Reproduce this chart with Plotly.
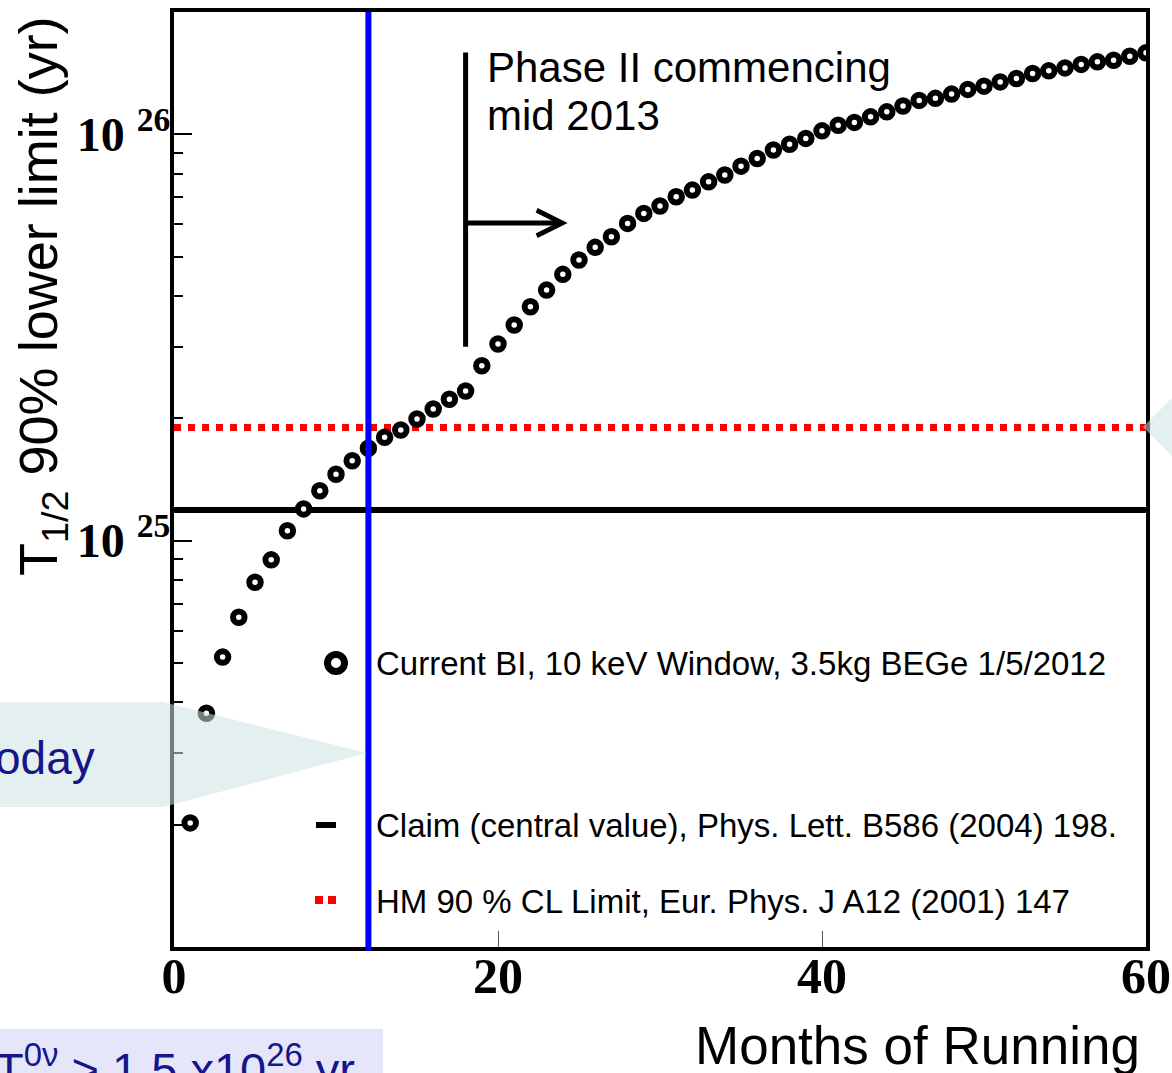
import math
import plotly.graph_objects as go

# Projected 90% CL lower limit on the half-life vs. months of running
months = list(range(1, 61))
t_half_limit = [
    2.02e24, 3.76e24, 5.17e24, 6.48e24, 7.90e24, 8.97e24, 1.058e25, 1.197e25,
    1.327e25, 1.457e25, 1.573e25, 1.688e25, 1.796e25, 1.872e25, 1.992e25, 2.109e25,
    2.228e25, 2.335e25, 2.695e25, 3.048e25, 3.394e25, 3.764e25, 4.137e25, 4.522e25,
    4.904e25, 5.270e25, 5.595e25, 6.037e25, 6.389e25, 6.66e25, 7.02e25, 7.29e25,
    7.64e25, 7.94e25, 8.35e25, 8.72e25, 9.15e25, 9.45e25, 9.77e25, 1.020e26,
    1.053e26, 1.070e26, 1.104e26, 1.136e26, 1.174e26, 1.212e26, 1.226e26, 1.256e26,
    1.290e26, 1.314e26, 1.346e26, 1.372e26, 1.412e26, 1.433e26, 1.457e26, 1.486e26,
    1.508e26, 1.522e26, 1.557e26, 1.587e26,
]

claim_value = 1.19e25        # Phys. Lett. B586 (2004) 198
hm_limit = 1.9e25            # Eur. Phys. J A12 (2001) 147
today_month = 12
phase2_month = 18
phase2_span = [3.0e25, 1.59e26]
phase2_arrow_end = 24.3
phase2_arrow_level = 6.05e25

x_range = [0, 60]
y_range = [1e24, 2e26]
x_ticks = [0, 20, 40, 60]
y_ticks = [1e25, 1e26]
y_ticktext = ["<b>10</b> <b><sup>25</sup></b>", "<b>10</b> <b><sup>26</sup></b>"]
y_minor = [m * 1e24 for m in range(2, 10)] + [m * 1e25 for m in range(2, 10)]

legend_labels = [
    "Current BI, 10 keV Window, 3.5kg BEGe 1/5/2012",
    "Claim (central value), Phys. Lett. B586 (2004) 198.",
    "HM 90 % CL Limit, Eur. Phys. J A12 (2001) 147",
]

W_PAGE, H_PAGE = 1172, 1073
L, R, T, B = 174, 1146, 12, 947


def px(x):
    return (x - L) / (R - L)


def py(y):
    return (B - y) / (B - T)


fig = go.Figure()

# reference lines
fig.add_trace(go.Scatter(
    x=x_range, y=[hm_limit, hm_limit], mode="lines",
    line=dict(color="#ff0000", width=7, dash="7px,7px"),
    showlegend=False, hoverinfo="skip"))
fig.add_trace(go.Scatter(
    x=x_range, y=[claim_value, claim_value], mode="lines",
    line=dict(color="black", width=6),
    showlegend=False, hoverinfo="skip"))

# Phase II marker line
fig.add_trace(go.Scatter(
    x=[phase2_month, phase2_month], y=phase2_span, mode="lines",
    line=dict(color="black", width=5),
    showlegend=False, hoverinfo="skip", cliponaxis=False))

# sensitivity points
fig.add_trace(go.Scatter(
    x=months, y=t_half_limit, mode="markers",
    marker=dict(symbol="circle", size=11.5, color="white", line=dict(width=6, color="black")),
    showlegend=False))

shapes = []
# "today" line
shapes.append(dict(type="line", xref="x", yref="paper", x0=today_month, x1=today_month,
                   y0=-0.004, y1=1.0, line=dict(color="#0000ff", width=6), layer="above"))

# legend keys
r = 8.5
shapes.append(dict(type="circle", xref="paper", yref="paper",
                   x0=px(336 - r), x1=px(336 + r), y0=py(663 + r), y1=py(663 - r),
                   line=dict(color="black", width=7), fillcolor="white", layer="above"))
shapes.append(dict(type="line", xref="paper", yref="paper",
                   x0=px(316), x1=px(336), y0=py(825), y1=py(825),
                   line=dict(color="black", width=6), layer="above"))
for a, b in [(315, 323), (328, 336)]:
    shapes.append(dict(type="rect", xref="paper", yref="paper",
                       x0=px(a), x1=px(b), y0=py(904), y1=py(896),
                       line=dict(width=0), fillcolor="#ff0000", layer="above"))

# callout overlays
callout_fill = "rgba(205,228,228,0.55)"


def path(points):
    return "M " + " L ".join(f"{px(x):.5f},{py(y):.5f}" for x, y in points) + " Z"


shapes.append(dict(type="path", xref="paper", yref="paper",
                   path=path([(-20, 702), (163, 702), (367, 753), (163, 807), (-20, 807)]),
                   fillcolor=callout_fill, line=dict(width=0), layer="above"))
shapes.append(dict(type="path", xref="paper", yref="paper",
                   path=path([(1143, 427), (1210, 360), (1210, 494)]),
                   fillcolor=callout_fill, line=dict(width=0), layer="above"))
shapes.append(dict(type="rect", xref="paper", yref="paper",
                   x0=px(-20), x1=px(383), y0=py(1100), y1=py(1029),
                   fillcolor="#e6e6fa", line=dict(width=0), layer="above"))

annotations = []
# Phase II arrow
annotations.append(dict(
    x=phase2_arrow_end, y=math.log10(phase2_arrow_level), xref="x", yref="y",
    ax=phase2_month, ay=math.log10(phase2_arrow_level), axref="x", ayref="y",
    text="", showarrow=True, arrowhead=5, arrowsize=1, arrowwidth=5,
    arrowcolor="black", standoff=0, startstandoff=0))

sans = "Liberation Sans, Arial, sans-serif"
annotations.append(dict(text="Phase II commencing", x=px(485), y=py(67), xref="paper", yref="paper",
                        xanchor="left", yanchor="middle", showarrow=False,
                        font=dict(family=sans, size=42, color="black")))
annotations.append(dict(text="mid 2013", x=px(485), y=py(116), xref="paper", yref="paper",
                        xanchor="left", yanchor="middle", showarrow=False,
                        font=dict(family=sans, size=42, color="black")))

for label, yc in zip(legend_labels, [663, 825, 901]):
    annotations.append(dict(text=label, x=px(374), y=py(yc), xref="paper", yref="paper",
                            xanchor="left", yanchor="middle", showarrow=False,
                            font=dict(family=sans, size=33, color="black")))

annotations.append(dict(text="Months of Running", x=px(1142), y=py(1045), xref="paper", yref="paper",
                        xanchor="right", yanchor="middle", showarrow=False,
                        font=dict(family=sans, size=53, color="black")))
annotations.append(dict(text="T<sub>1/2</sub> 90% lower limit (yr)", x=px(42), y=py(296),
                        xref="paper", yref="paper", xanchor="center", yanchor="middle",
                        textangle=-90, showarrow=False,
                        font=dict(family=sans, size=54, color="black")))

navy = "#16168a"
annotations.append(dict(text="Today", x=px(97), y=py(758), xref="paper", yref="paper",
                        xanchor="right", yanchor="middle", showarrow=False,
                        font=dict(family=sans, size=46, color=navy)))
annotations.append(dict(text="T<sup>0ν</sup> &gt; 1.5 x10<sup>26</sup> yr", x=px(-7), y=py(1066),
                        xref="paper", yref="paper", xanchor="left", yanchor="middle",
                        showarrow=False, font=dict(family=sans, size=47, color=navy)))

serif = "Liberation Serif, Times New Roman, serif"
fig.update_layout(
    width=W_PAGE, height=H_PAGE,
    margin=dict(l=L, r=W_PAGE - R, t=T, b=H_PAGE - B, pad=0, autoexpand=False),
    paper_bgcolor="white", plot_bgcolor="white",
    shapes=shapes, annotations=annotations,
    showlegend=False,
    xaxis=dict(
        range=x_range, tickvals=x_ticks, ticktext=[f"<b>{v}</b>" for v in x_ticks],
        ticks="inside", ticklen=16, tickwidth=1, tickcolor="#555555",
        tickfont=dict(family=serif, size=50, color="black"),
        showline=True, linecolor="black", linewidth=4, mirror=True,
        showgrid=False, zeroline=False, automargin=False, ticklabelstandoff=-18),
    yaxis=dict(
        type="log", range=[math.log10(y_range[0]), math.log10(y_range[1])],
        tickvals=y_ticks, ticktext=y_ticktext,
        ticks="inside", ticklen=18, tickwidth=1.5, tickcolor="black",
        tickfont=dict(family=serif, size=48, color="black"),
        minor=dict(tickvals=y_minor, ticks="inside", ticklen=9, tickwidth=1.5, tickcolor="black"),
        showline=True, linecolor="black", linewidth=4, mirror=True,
        showgrid=False, zeroline=False, automargin=False, ticklabelstandoff=-10),
)

fig.write_html("out.html")
